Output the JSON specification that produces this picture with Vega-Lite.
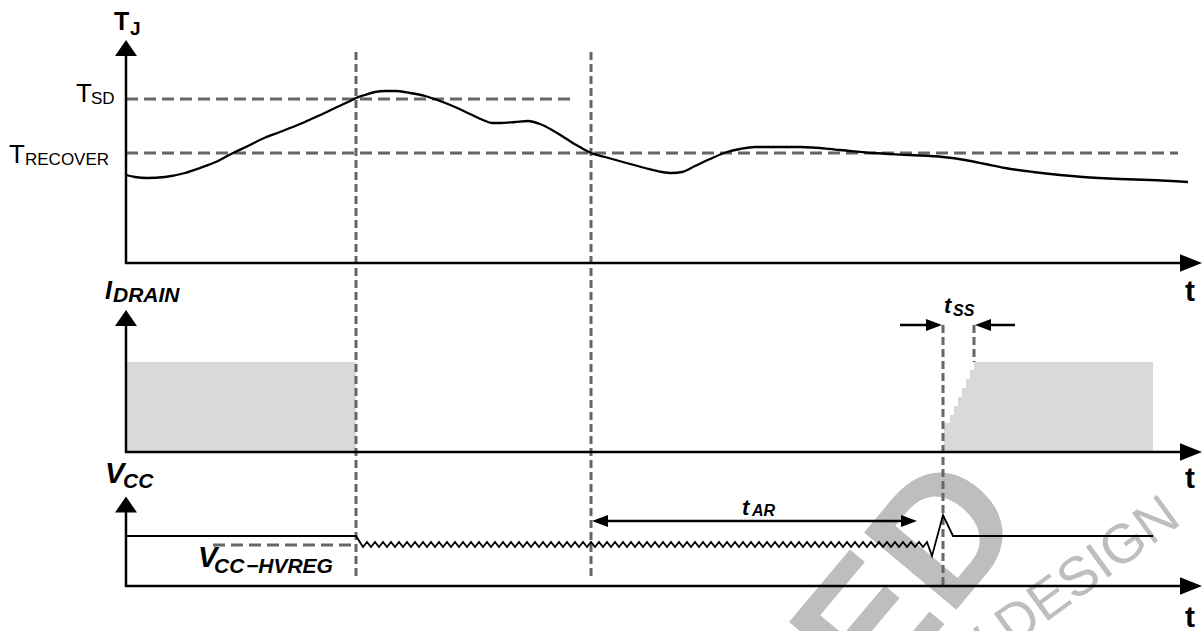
{
  "$schema": "https://vega.github.io/schema/vega-lite/v6.json",
  "width": 1204,
  "height": 631,
  "padding": 0,
  "autosize": {"type": "none"},
  "background": "white",
  "config": {"view": {"stroke": null}, "text": {"font": "Liberation Sans"}},
  "datasets": {
    "wm": [
      {"x": 1030, "y": 522, "text": "ED", "part": "big"},
      {"x": 1183, "y": 523, "text": "NEW DESIGN", "part": "small"}
    ],
    "fillrect": [{"x": 126, "x2": 356, "y": 362, "y2": 452}],
    "ramp": [
      {"x": 944, "y": 423, "yb": 452},
      {"x": 950, "y": 415, "yb": 452},
      {"x": 954, "y": 406, "yb": 452},
      {"x": 958, "y": 397, "yb": 452},
      {"x": 962, "y": 388, "yb": 452},
      {"x": 966, "y": 379, "yb": 452},
      {"x": 970, "y": 370, "yb": 452},
      {"x": 974, "y": 362, "yb": 452},
      {"x": 1153, "y": 362, "yb": 452}
    ],
    "vdash": [
      {"x": 356, "y": 52, "y2": 580},
      {"x": 591, "y": 52, "y2": 580},
      {"x": 943, "y": 325, "y2": 587},
      {"x": 974, "y": 325, "y2": 362}
    ],
    "hdash": [
      {"x": 126, "x2": 575, "y": 99},
      {"x": 126, "x2": 1178, "y": 153},
      {"x": 213, "x2": 356, "y": 545}
    ],
    "solid": [
      {"x": 126, "x2": 126, "y": 52, "y2": 264},
      {"x": 125, "x2": 1186, "y": 263, "y2": 263},
      {"x": 126, "x2": 126, "y": 320, "y2": 453},
      {"x": 125, "x2": 1186, "y": 452, "y2": 452},
      {"x": 126, "x2": 126, "y": 506, "y2": 587},
      {"x": 125, "x2": 1186, "y": 586, "y2": 586},
      {"x": 604, "x2": 905, "y": 521, "y2": 521},
      {"x": 900, "x2": 930, "y": 325, "y2": 325},
      {"x": 987, "x2": 1015, "y": 325, "y2": 325}
    ],
    "tj": [
      {"x": 126, "y": 175}, {"x": 135, "y": 177}, {"x": 147, "y": 178}, {"x": 165, "y": 177},
      {"x": 185, "y": 173}, {"x": 200, "y": 168}, {"x": 218, "y": 161}, {"x": 233, "y": 153},
      {"x": 248, "y": 146}, {"x": 262, "y": 139}, {"x": 280, "y": 132}, {"x": 300, "y": 124},
      {"x": 318, "y": 116}, {"x": 335, "y": 108}, {"x": 348, "y": 102}, {"x": 356, "y": 98},
      {"x": 365, "y": 95}, {"x": 375, "y": 92}, {"x": 385, "y": 91}, {"x": 395, "y": 91},
      {"x": 410, "y": 93}, {"x": 425, "y": 96}, {"x": 440, "y": 101}, {"x": 455, "y": 107},
      {"x": 470, "y": 114}, {"x": 483, "y": 120}, {"x": 492, "y": 123}, {"x": 500, "y": 123},
      {"x": 515, "y": 122}, {"x": 528, "y": 121}, {"x": 540, "y": 124}, {"x": 552, "y": 130},
      {"x": 565, "y": 138}, {"x": 578, "y": 146}, {"x": 591, "y": 153}, {"x": 605, "y": 157},
      {"x": 623, "y": 162}, {"x": 645, "y": 168}, {"x": 662, "y": 172}, {"x": 672, "y": 173},
      {"x": 682, "y": 172}, {"x": 695, "y": 166}, {"x": 710, "y": 159}, {"x": 727, "y": 152},
      {"x": 740, "y": 149}, {"x": 755, "y": 147}, {"x": 775, "y": 147}, {"x": 800, "y": 147},
      {"x": 840, "y": 150}, {"x": 873, "y": 153}, {"x": 910, "y": 155}, {"x": 943, "y": 157},
      {"x": 965, "y": 160}, {"x": 985, "y": 164}, {"x": 1005, "y": 168}, {"x": 1033, "y": 172},
      {"x": 1060, "y": 175}, {"x": 1083, "y": 177}, {"x": 1120, "y": 179}, {"x": 1150, "y": 180},
      {"x": 1188, "y": 182}
    ],
    "vcc": [
      {"x": 126, "y": 536}, {"x": 356, "y": 536},
      {"x": 363, "y": 547}, {"x": 367, "y": 542}, {"x": 371, "y": 547}, {"x": 375, "y": 542},
      {"x": 379, "y": 547}, {"x": 383, "y": 542}, {"x": 387, "y": 547}, {"x": 391, "y": 542},
      {"x": 395, "y": 547}, {"x": 399, "y": 542}, {"x": 403, "y": 547}, {"x": 407, "y": 542},
      {"x": 411, "y": 547}, {"x": 415, "y": 542}, {"x": 419, "y": 547}, {"x": 423, "y": 542},
      {"x": 427, "y": 547}, {"x": 431, "y": 542}, {"x": 435, "y": 547}, {"x": 439, "y": 542},
      {"x": 443, "y": 547}, {"x": 447, "y": 542}, {"x": 451, "y": 547}, {"x": 455, "y": 542},
      {"x": 459, "y": 547}, {"x": 463, "y": 542}, {"x": 467, "y": 547}, {"x": 471, "y": 542},
      {"x": 475, "y": 547}, {"x": 479, "y": 542}, {"x": 483, "y": 547}, {"x": 487, "y": 542},
      {"x": 491, "y": 547}, {"x": 495, "y": 542}, {"x": 499, "y": 547}, {"x": 503, "y": 542},
      {"x": 507, "y": 547}, {"x": 511, "y": 542}, {"x": 515, "y": 547}, {"x": 519, "y": 542},
      {"x": 523, "y": 547}, {"x": 527, "y": 542}, {"x": 531, "y": 547}, {"x": 535, "y": 542},
      {"x": 539, "y": 547}, {"x": 543, "y": 542}, {"x": 547, "y": 547}, {"x": 551, "y": 542},
      {"x": 555, "y": 547}, {"x": 559, "y": 542}, {"x": 563, "y": 547}, {"x": 567, "y": 542},
      {"x": 571, "y": 547}, {"x": 575, "y": 542}, {"x": 579, "y": 547}, {"x": 583, "y": 542},
      {"x": 587, "y": 547}, {"x": 591, "y": 542}, {"x": 595, "y": 547}, {"x": 599, "y": 542},
      {"x": 603, "y": 547}, {"x": 607, "y": 542}, {"x": 611, "y": 547}, {"x": 615, "y": 542},
      {"x": 619, "y": 547}, {"x": 623, "y": 542}, {"x": 627, "y": 547}, {"x": 631, "y": 542},
      {"x": 635, "y": 547}, {"x": 639, "y": 542}, {"x": 643, "y": 547}, {"x": 647, "y": 542},
      {"x": 651, "y": 547}, {"x": 655, "y": 542}, {"x": 659, "y": 547}, {"x": 663, "y": 542},
      {"x": 667, "y": 547}, {"x": 671, "y": 542}, {"x": 675, "y": 547}, {"x": 679, "y": 542},
      {"x": 683, "y": 547}, {"x": 687, "y": 542}, {"x": 691, "y": 547}, {"x": 695, "y": 542},
      {"x": 699, "y": 547}, {"x": 703, "y": 542}, {"x": 707, "y": 547}, {"x": 711, "y": 542},
      {"x": 715, "y": 547}, {"x": 719, "y": 542}, {"x": 723, "y": 547}, {"x": 727, "y": 542},
      {"x": 731, "y": 547}, {"x": 735, "y": 542}, {"x": 739, "y": 547}, {"x": 743, "y": 542},
      {"x": 747, "y": 547}, {"x": 751, "y": 542}, {"x": 755, "y": 547}, {"x": 759, "y": 542},
      {"x": 763, "y": 547}, {"x": 767, "y": 542}, {"x": 771, "y": 547}, {"x": 775, "y": 542},
      {"x": 779, "y": 547}, {"x": 783, "y": 542}, {"x": 787, "y": 547}, {"x": 791, "y": 542},
      {"x": 795, "y": 547}, {"x": 799, "y": 542}, {"x": 803, "y": 547}, {"x": 807, "y": 542},
      {"x": 811, "y": 547}, {"x": 815, "y": 542}, {"x": 819, "y": 547}, {"x": 823, "y": 542},
      {"x": 827, "y": 547}, {"x": 831, "y": 542}, {"x": 835, "y": 547}, {"x": 839, "y": 542},
      {"x": 843, "y": 547}, {"x": 847, "y": 542}, {"x": 851, "y": 547}, {"x": 855, "y": 542},
      {"x": 859, "y": 547}, {"x": 863, "y": 542}, {"x": 867, "y": 547}, {"x": 871, "y": 542},
      {"x": 875, "y": 547}, {"x": 879, "y": 542}, {"x": 883, "y": 547}, {"x": 887, "y": 542},
      {"x": 891, "y": 547}, {"x": 895, "y": 542}, {"x": 899, "y": 547}, {"x": 903, "y": 542},
      {"x": 907, "y": 547}, {"x": 911, "y": 542}, {"x": 915, "y": 547}, {"x": 919, "y": 542},
      {"x": 923, "y": 547}, {"x": 927, "y": 542},
      {"x": 932, "y": 556}, {"x": 943, "y": 515}, {"x": 953, "y": 536}, {"x": 1153, "y": 536}
    ],
    "heads": [
      {"x": 126, "y": 48, "dir": "upbig"},
      {"x": 126, "y": 318, "dir": "upbig"},
      {"x": 126, "y": 504.5, "dir": "upbig"},
      {"x": 1191, "y": 263, "dir": "rightbig"},
      {"x": 1191, "y": 452, "dir": "rightbig"},
      {"x": 1191, "y": 586, "dir": "rightbig"},
      {"x": 909, "y": 521, "dir": "right"},
      {"x": 934, "y": 325, "dir": "right"},
      {"x": 600, "y": 521, "dir": "left"},
      {"x": 983, "y": 325, "dir": "left"}
    ],
    "labels": [
      {"x": 114, "y": 30, "text": "T", "role": "tj"},
      {"x": 130, "y": 35, "text": "J", "role": "tjsub"},
      {"x": 1185, "y": 301, "text": "t", "role": "taxis"},
      {"x": 1185, "y": 488, "text": "t", "role": "taxis"},
      {"x": 1185, "y": 627, "text": "t", "role": "taxis"},
      {"x": 76, "y": 102, "text": "T", "role": "nbig"},
      {"x": 91, "y": 104, "text": "SD", "role": "nsub"},
      {"x": 9, "y": 163, "text": "T", "role": "nbig"},
      {"x": 25, "y": 165, "text": "RECOVER", "role": "nsub"},
      {"x": 105, "y": 299, "text": "I", "role": "ibig"},
      {"x": 113, "y": 302, "text": "DRAIN", "role": "isub"},
      {"x": 105, "y": 483, "text": "V", "role": "vbig"},
      {"x": 123, "y": 488, "text": "CC", "role": "isub"},
      {"x": 198, "y": 567, "text": "V", "role": "vbig"},
      {"x": 214, "y": 573, "text": "CC", "role": "isub"},
      {"x": 246, "y": 573, "text": "−HVREG", "role": "isub"},
      {"x": 944, "y": 313, "text": "t", "role": "it"},
      {"x": 953, "y": 316, "text": "SS", "role": "isub2"},
      {"x": 742, "y": 515, "text": "t", "role": "it"},
      {"x": 752, "y": 516, "text": "AR", "role": "isub2"}
    ]
  },
  "encoding": {
    "x": {"field": "x", "type": "quantitative", "scale": {"domain": [0, 1204], "nice": false, "zero": false}, "axis": null},
    "y": {"field": "y", "type": "quantitative", "scale": {"domain": [0, 631], "reverse": true, "nice": false, "zero": false}, "axis": null}
  },
  "layer": [
    {
      "data": {"name": "wm"},
      "transform": [{"filter": "datum.part === 'big'"}],
      "mark": {"type": "text", "font": "Liberation Sans", "fontWeight": "bold", "fontSize": 175, "angle": -50, "align": "right", "baseline": "alphabetic", "color": "#bebebe"},
      "encoding": {"text": {"field": "text"}}
    },
    {
      "data": {"name": "wm"},
      "transform": [{"filter": "datum.part === 'small'"}],
      "mark": {"type": "text", "font": "Liberation Sans", "fontSize": 55, "angle": -36, "align": "right", "baseline": "alphabetic", "color": "#bebebe"},
      "encoding": {"text": {"field": "text"}}
    },
    {
      "data": {"name": "fillrect"},
      "mark": {"type": "rect", "color": "#d9d9d9"},
      "encoding": {"x2": {"field": "x2"}, "y2": {"field": "y2"}}
    },
    {
      "data": {"name": "ramp"},
      "mark": {"type": "area", "color": "#d9d9d9", "interpolate": "step-after"},
      "encoding": {"y2": {"field": "yb"}}
    },
    {
      "data": {"name": "vdash"},
      "mark": {"type": "rule", "color": "#666666", "strokeWidth": 3, "strokeDash": [8, 4]},
      "encoding": {"y2": {"field": "y2"}}
    },
    {
      "data": {"name": "hdash"},
      "mark": {"type": "rule", "color": "#666666", "strokeWidth": 3, "strokeDash": [12, 6]},
      "encoding": {"x2": {"field": "x2"}}
    },
    {
      "data": {"name": "solid"},
      "mark": {"type": "rule", "color": "black", "strokeWidth": 2.5},
      "encoding": {"x2": {"field": "x2"}, "y2": {"field": "y2"}}
    },
    {
      "data": {"name": "tj"},
      "mark": {"type": "line", "color": "black", "strokeWidth": 2.3, "interpolate": "monotone"},
      "encoding": {}
    },
    {
      "data": {"name": "vcc"},
      "mark": {"type": "line", "color": "black", "strokeWidth": 1.8, "interpolate": "linear"},
      "encoding": {}
    },
    {
      "data": {"name": "heads"},
      "transform": [{"filter": "datum.dir === 'upbig'"}],
      "mark": {"type": "point", "filled": true, "color": "black", "opacity": 1, "size": 484, "shape": "M0,-0.73L1,0.73L-1,0.73Z"}
    },
    {
      "data": {"name": "heads"},
      "transform": [{"filter": "datum.dir === 'rightbig'"}],
      "mark": {"type": "point", "filled": true, "color": "black", "opacity": 1, "size": 484, "shape": "M1,0L-1,-0.8L-1,0.8Z"}
    },
    {
      "data": {"name": "heads"},
      "transform": [{"filter": "datum.dir === 'right'"}],
      "mark": {"type": "point", "filled": true, "color": "black", "opacity": 1, "size": 256, "shape": "M1,0L-1,-0.75L-1,0.75Z"}
    },
    {
      "data": {"name": "heads"},
      "transform": [{"filter": "datum.dir === 'left'"}],
      "mark": {"type": "point", "filled": true, "color": "black", "opacity": 1, "size": 256, "shape": "M-1,0L1,-0.75L1,0.75Z"}
    },
    {
      "data": {"name": "labels"},
      "transform": [{"filter": "datum.role === 'tj'"}],
      "mark": {"type": "text", "fontWeight": "bold", "fontSize": 25, "align": "left", "baseline": "alphabetic", "color": "black"},
      "encoding": {"text": {"field": "text"}}
    },
    {
      "data": {"name": "labels"},
      "transform": [{"filter": "datum.role === 'tjsub'"}],
      "mark": {"type": "text", "fontWeight": "bold", "fontSize": 19, "align": "left", "baseline": "alphabetic", "color": "black"},
      "encoding": {"text": {"field": "text"}}
    },
    {
      "data": {"name": "labels"},
      "transform": [{"filter": "datum.role === 'taxis'"}],
      "mark": {"type": "text", "fontWeight": "bold", "fontSize": 30, "align": "left", "baseline": "alphabetic", "color": "black"},
      "encoding": {"text": {"field": "text"}}
    },
    {
      "data": {"name": "labels"},
      "transform": [{"filter": "datum.role === 'nbig'"}],
      "mark": {"type": "text", "fontSize": 26, "align": "left", "baseline": "alphabetic", "color": "black"},
      "encoding": {"text": {"field": "text"}}
    },
    {
      "data": {"name": "labels"},
      "transform": [{"filter": "datum.role === 'nsub'"}],
      "mark": {"type": "text", "fontSize": 17, "align": "left", "baseline": "alphabetic", "color": "black"},
      "encoding": {"text": {"field": "text"}}
    },
    {
      "data": {"name": "labels"},
      "transform": [{"filter": "datum.role === 'ibig'"}],
      "mark": {"type": "text", "fontWeight": "bold", "fontStyle": "italic", "fontSize": 25, "align": "left", "baseline": "alphabetic", "color": "black"},
      "encoding": {"text": {"field": "text"}}
    },
    {
      "data": {"name": "labels"},
      "transform": [{"filter": "datum.role === 'vbig'"}],
      "mark": {"type": "text", "fontWeight": "bold", "fontStyle": "italic", "fontSize": 29, "align": "left", "baseline": "alphabetic", "color": "black"},
      "encoding": {"text": {"field": "text"}}
    },
    {
      "data": {"name": "labels"},
      "transform": [{"filter": "datum.role === 'isub'"}],
      "mark": {"type": "text", "fontWeight": "bold", "fontStyle": "italic", "fontSize": 21, "align": "left", "baseline": "alphabetic", "color": "black"},
      "encoding": {"text": {"field": "text"}}
    },
    {
      "data": {"name": "labels"},
      "transform": [{"filter": "datum.role === 'it'"}],
      "mark": {"type": "text", "fontWeight": "bold", "fontStyle": "italic", "fontSize": 22, "align": "left", "baseline": "alphabetic", "color": "black"},
      "encoding": {"text": {"field": "text"}}
    },
    {
      "data": {"name": "labels"},
      "transform": [{"filter": "datum.role === 'isub2'"}],
      "mark": {"type": "text", "fontWeight": "bold", "fontStyle": "italic", "fontSize": 16, "align": "left", "baseline": "alphabetic", "color": "black"},
      "encoding": {"text": {"field": "text"}}
    }
  ]
}
